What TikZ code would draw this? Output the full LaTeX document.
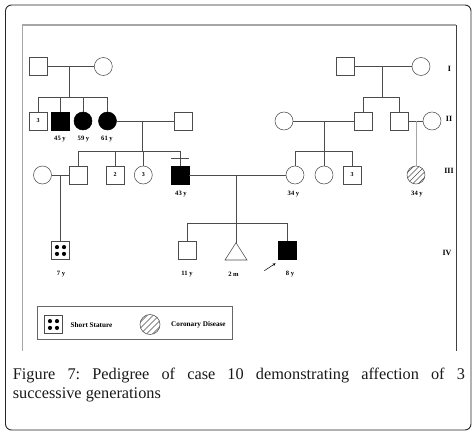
\documentclass[tikz,border=0pt]{standalone}
\usepackage{fontspec}
\setmainfont{Liberation Serif}
\usetikzlibrary{arrows.meta,calc}
\frenchspacing
\begin{document}
\begin{tikzpicture}[x=1pt,y=-1pt,
  ln/.style={line width=0.55pt, draw=black!70},
  male/.style={draw=black!70, line width=0.55pt, rectangle, minimum size=18pt, inner sep=0pt, font=\bfseries\fontsize{6}{7}\selectfont},
  female/.style={male, circle, minimum size=18pt},
  aff/.style={fill=black, draw=black},
  age/.style={font=\bfseries\fontsize{6.6}{8}\selectfont, inner sep=0pt},
  gen/.style={font=\bfseries\fontsize{8}{9}\selectfont, inner sep=0pt},
  leg/.style={font=\bfseries\fontsize{7.2}{8}\selectfont, inner sep=0pt, anchor=west}]
\useasboundingbox (0,0) rectangle (476,435);
% frames
\draw[line width=0.9pt, rounded corners=6pt, draw=black!85] (5.5,5) rectangle (471,430);
\draw[line width=1.1pt, draw=black!35] (22.5,351) -- (22.5,25) -- (456,25);
\draw[line width=0.9pt, draw=black!75] (456,25) -- (456,351);

% Generation I
\node[male] (I1) at (38.5,66.5) {};
\node[female] (I2) at (103.3,66.5) {};
\node[male] (I3) at (345,66.5) {};
\node[female] (I4) at (421,66.5) {};

% Generation II
\node[male] (II1) at (38,121) {3};
\node[male,aff] (II2) at (60,121) {};
\node[female,aff] (II3) at (83,121) {};
\node[female,aff] (II4) at (107.5,121) {};
\node[male] (II5) at (183,121) {};
\node[female] (II6) at (284,121) {};
\node[male] (II7) at (363.5,121) {};
\node[male] (II8) at (399.5,121) {};
\node[female] (II9) at (432,121) {};

% Generation III
\node[female] (III1) at (42.5,175) {};
\node[male] (III2) at (78.5,175) {};
\node[male] (III3) at (115,175) {2};
\node[female] (III4) at (143.3,175) {3};
\node[male,aff] (III5) at (180,175) {};
\node[female] (III6) at (295,175) {};
\node[female] (III7) at (324,175) {};
\node[male] (III8) at (352,175) {3};
\node[female] (III9) at (416,175) {};

% Generation IV
\node[male] (IV1) at (60.5,250.5) {};
\node[male] (IV2) at (187.5,250.5) {};
\coordinate (IV3) at (236,242.7);
\draw[ln] (IV3) -- (247,260) -- (225,260) -- cycle;
\node[male,aff] (IV4) at (287.5,250.5) {};

% dots for short stature
\foreach \dx/\dy in {-3.5/-3.4, 3.5/-3.4, -3.5/3.4, 3.5/3.4}
  \fill ($(IV1)+(\dx,\dy)$) circle (2.1pt);

% hatch for coronary disease
\begin{scope}
  \clip (III9) circle (9pt);
  \foreach \k in {-11,-5.5,0,5.5,11}
    \draw[line width=0.5pt, draw=black!70] ($(III9)+(\k-12,12)$) -- ($(III9)+(\k+12,-12)$);
\end{scope}

% Left family lines
\draw[ln] (I1.east) -- (I2.west);
\coordinate (jI12) at (69,66.5);
\coordinate (sI12) at (69,97);
\draw[ln] (jI12) -- (sI12);
\draw[ln] (II1.north) |- (sI12);
\draw[ln] (II4.north) |- (sI12);
\draw[ln] (II2.north) -- (II2.north |- sI12);
\draw[ln] (II3.north) -- (II3.north |- sI12);

\draw[ln] (II4.east) -- (II5.west);
\coordinate (jII45) at (142.5,121);
\coordinate (sII45) at (142.5,151.7);
\draw[ln] (jII45) -- (sII45);
\draw[ln] (III2.north) |- (sII45);
\draw[ln] (III5.north) |- (sII45);
\draw[ln] (III3.north) -- (III3.north |- sII45);
\draw[ln] (III4.north) -- (III4.north |- sII45);
\draw[ln] (171,158.3) -- (189,158.3);

\draw[ln] (III1.east) -- (III2.west);
\coordinate (jIII12) at (60.5,175);
\draw[ln] (jIII12) -- (IV1.north);

% central marriage
\draw[ln] (III5.east) -- (III6.west);
\coordinate (jIII56) at (236,175);
\coordinate (sIII56) at (236,223.3);
\draw[ln] (jIII56) -- (IV3);
\draw[ln] (IV2.north) |- (sIII56);
\draw[ln] (IV4.north) |- (sIII56);

% right family lines
\draw[ln] (I3.east) -- (I4.west);
\coordinate (jI34) at (382.7,66.5);
\coordinate (sI34) at (382.7,97);
\draw[ln] (jI34) -- (sI34);
\draw[ln] (II7.north) |- (sI34);
\draw[ln] (II8.north) |- (sI34);

\draw[ln] (II6.east) -- (II7.west);
\coordinate (jII67) at (324,121);
\coordinate (sII67) at (324,151.7);
\draw[ln] (jII67) -- (III7.north);
\draw[ln] (III6.north) |- (sII67);
\draw[ln] (III8.north) |- (sII67);

\draw[ln] (II8.east) -- (II9.west);
\coordinate (jII89) at (416,121);
\draw[line width=0.7pt, draw=black!35] (jII89) -- (III9.north);

% ages
\node[age] at (60,139.5) {45 y};
\node[age] at (83.5,139.5) {59 y};
\node[age] at (107,139.5) {61 y};
\node[age] at (181,194) {43 y};
\node[age] at (293.5,194) {34 y};
\node[age] at (417,194) {34 y};
\node[age] at (61,274) {7 y};
\node[age] at (187,274) {11 y};
\node[age] at (233.5,274) {2 m};
\node[age] at (290,274) {8 y};

% proband arrow
\coordinate (pa) at (264.3,270.7);
\coordinate (pb) at (275.7,263.3);
\draw[line width=0.5pt, -{Stealth[length=3.2pt,width=2.8pt]}] (pa) -- (pb);

% generation labels
\node[gen] at (449.5,69) {I};
\node[gen] at (449,118.5) {II};
\node[gen] at (449,170.5) {III};
\node[gen] at (447,252.5) {IV};

% legend
\draw[line width=0.6pt, draw=black!60] (37,306.7) rectangle (232,339.3);
\node[male] (L1) at (53.5,324.5) {};
\foreach \dx/\dy in {-3.5/-3.4, 3.5/-3.4, -3.5/3.4, 3.5/3.4}
  \fill ($(L1)+(\dx,\dy)$) circle (2.1pt);
\node[leg] at (70.5,324.7) {Short Stature};
\node[female, minimum size=20pt] (L2) at (150,324.5) {};
\begin{scope}
  \clip (L2) circle (10pt);
  \foreach \k in {-12,-6,0,6,12}
    \draw[line width=0.5pt, draw=black!70] ($(L2)+(\k-13,13)$) -- ($(L2)+(\k+13,-13)$);
\end{scope}
\node[leg] at (171,324.7) {Coronary Disease};

% caption
\node[anchor=north west, inner sep=0pt, text width=452pt, align=justify,
      font=\fontsize{16.3}{19}\selectfont, text=black!90] (cap) at (12.7,368)
  {Figure 7: Pedigree of case 10 demonstrating affection of 3\linebreak successive generations};
\end{tikzpicture}
\end{document}
